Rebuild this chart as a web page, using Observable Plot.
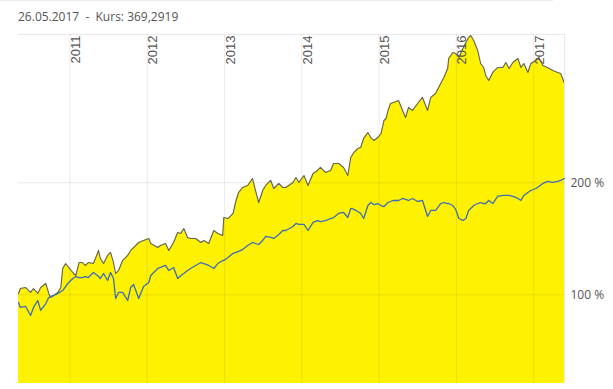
<!DOCTYPE html>
<html><head><meta charset="utf-8">
<script src="https://cdn.jsdelivr.net/npm/d3@7"></script>
<script src="https://cdn.jsdelivr.net/npm/@observablehq/plot@0.6"></script>
<style>
body{margin:0;background:#fff;}
#wrap{position:relative;width:613px;height:389px;overflow:hidden;}
#title{position:absolute;left:18px;top:9px;font:12px/16px "Open Sans";color:#555;white-space:pre;z-index:2;}
#rule{position:absolute;left:0;top:0;width:553px;height:1px;background:#ececec;z-index:2;}
#wrap svg{position:absolute;left:0;top:0;}
</style></head><body>
<div id="wrap"><div id="rule"></div><div id="title">26.05.2017  -  Kurs: 369,2919</div></div>
<script>
const titleText = "26.05.2017  -  Kurs: 369,2919";
const yearLabels = ["2011","2012","2013","2014","2015","2016","2017"];
const yTicks = [100, 200];
const dates = ["2010-05-03","2010-05-12","2010-06-06","2010-06-29","2010-07-13","2010-08-02","2010-08-16","2010-09-09","2010-09-23","2010-10-02","2010-10-16","2010-11-05","2010-11-19","2010-11-28","2010-12-12","2010-12-26",
"2011-01-15","2011-01-29","2011-02-13","2011-03-01","2011-03-15","2011-03-29","2011-04-22","2011-05-11","2011-05-16","2011-05-25","2011-06-09","2011-06-28","2011-07-12","2011-07-26","2011-08-05","2011-08-19","2011-09-07","2011-10-01","2011-10-15","2011-10-29","2011-11-22","2011-12-15",
"2012-01-09","2012-01-18","2012-02-20","2012-03-04","2012-03-28","2012-04-12","2012-05-05","2012-05-24","2012-06-08","2012-06-22","2012-07-10","2012-07-24","2012-08-17","2012-09-11","2012-09-25","2012-10-18","2012-11-11","2012-11-30","2012-12-23","2012-12-28",
"2013-01-17","2013-02-10","2013-02-24","2013-03-08","2013-03-27","2013-04-20","2013-05-13","2013-05-27","2013-06-11","2013-06-30","2013-07-14","2013-08-07","2013-08-21","2013-09-14","2013-10-03","2013-10-17","2013-11-20","2013-12-04","2013-12-18",
"2014-01-11","2014-01-30","2014-02-23","2014-03-16","2014-03-30","2014-04-23","2014-05-17","2014-05-31","2014-06-24","2014-07-17","2014-08-06","2014-08-20","2014-09-04","2014-09-22","2014-10-06","2014-10-20","2014-11-09","2014-11-23","2014-12-07","2014-12-26",
"2015-01-10","2015-01-24","2015-02-03","2015-02-12","2015-02-24","2015-03-10","2015-04-03","2015-04-22","2015-05-06","2015-05-20","2015-06-08","2015-07-02","2015-07-25","2015-08-18","2015-09-02","2015-09-25","2015-10-19","2015-11-03","2015-11-21","2015-11-26","2015-12-15","2015-12-29",
"2016-01-13","2016-02-01","2016-02-15","2016-02-28","2016-03-09","2016-03-23","2016-04-11","2016-04-25","2016-05-09","2016-05-19","2016-06-02","2016-06-21","2016-07-14","2016-08-08","2016-08-22","2016-09-06","2016-09-24","2016-10-18","2016-11-01","2016-11-15","2016-12-04","2016-12-18",
"2017-01-11","2017-01-25","2017-02-13","2017-03-07","2017-04-01","2017-04-24","2017-05-08","2017-05-26"];
const stock = [101.2,105.6,106.5,102.1,105.6,101.2,106.5,110.1,101.2,97.6,99.4,102.1,106.5,123.5,127.9,124.4,
119.9,117.2,128.8,128.8,126.2,128.8,127.9,136.9,139.6,132.4,127.9,135.1,137.8,128.8,119.0,121.7,130.6,135.1,139.6,142.2,146.7,148.5,
150.3,145.8,142.2,144.0,145.8,139.6,146.7,155.6,154.7,159.2,151.2,150.3,150.3,146.7,148.5,145.8,157.4,154.7,152.9,169.0,
168.1,172.6,184.2,191.3,195.8,197.6,203.8,193.1,182.4,193.1,197.6,202.1,194.9,199.4,195.8,195.8,200.3,204.7,200.3,
206.5,197.6,208.3,211.0,213.7,209.2,211.0,217.2,217.2,213.7,206.5,222.6,227.1,230.6,231.5,239.6,244.9,240.4,237.8,240.4,
244.0,255.6,257.4,264.6,270.8,271.7,273.5,264.6,258.3,267.2,264.6,270.8,276.2,264.6,276.2,279.7,288.7,294.0,302.1,311.0,316.3,315.4,
311.9,319.9,325.3,329.7,331.5,327.1,318.1,306.5,302.9,295.8,291.3,298.5,302.9,302.9,307.4,302.1,307.4,311.0,302.9,306.5,298.5,306.5,
309.2,311.9,304.7,302.9,300.3,298.5,297.6,288.7];
const benchmark = [93.1,88.7,89.6,81.5,88.7,94.9,86.0,92.2,97.6,98.5,99.4,101.2,102.9,103.8,107.4,111.0,
114.6,116.3,115.4,115.4,116.3,115.4,119.9,117.2,116.3,114.6,119.0,112.8,119.9,114.6,96.7,102.1,102.1,94.9,106.5,109.2,96.7,107.4,
111.0,117.2,123.5,124.4,126.2,121.7,124.4,114.6,117.2,119.0,121.7,123.5,126.2,128.8,127.9,126.2,123.5,127.9,130.6,130.6,
133.3,137.0,137.8,138.7,140.4,144.0,146.7,145.8,144.9,148.5,152.1,151.2,150.3,153.8,157.4,157.4,161.0,163.7,162.8,
162.8,157.4,164.6,166.3,165.4,166.3,168.1,169.0,172.6,173.5,169.0,177.1,176.2,174.4,172.6,168.1,179.7,182.4,180.6,181.5,
179.7,178.8,180.6,182.4,183.3,184.2,184.2,186.0,185.1,184.2,186.0,183.3,184.2,169.9,175.3,175.3,181.5,182.4,181.5,181.5,179.7,176.2,
168.1,166.3,168.1,175.3,177.1,179.7,181.5,182.4,181.5,181.5,184.2,181.5,187.8,188.7,188.7,188.7,187.8,186.0,184.2,188.7,191.3,193.1,
194.9,196.7,199.4,201.2,200.3,201.2,202.1,203.8];

const parse = d3.utcParse("%Y-%m-%d");
const data = dates.map((d, i) => ({date: parse(d), stock: stock[i], index: benchmark[i]}));
const yearDates = yearLabels.map(y => parse(y + "-01-01"));
const yMin = 20.8, yMax = 332.4;
const x0 = data[0].date, x1 = data[data.length - 1].date;

const chart = Plot.plot({
  width: 613, height: 389,
  marginTop: 34, marginBottom: 6, marginLeft: 18, marginRight: 49,
  style: {fontFamily: "Open Sans", fontSize: "12px", color: "#555", background: "transparent", overflow: "visible"},
  x: {type: "utc", domain: [x0, x1], axis: null},
  y: {domain: [yMin, yMax], axis: null},
  marks: [
    Plot.areaY(data, {x: "date", y1: yMin, y2: "stock", fill: "#fff200", clip: true}),
    Plot.ruleY(yTicks, {stroke: "#000", strokeOpacity: 0.085}),
    Plot.ruleX(yearDates, {stroke: "#000", strokeOpacity: 0.085}),
    Plot.ruleY([yMax], {stroke: "#000", strokeOpacity: 0.085}),
    Plot.ruleX([x1], {y1: yMax, y2: yMin, stroke: "#000", strokeOpacity: 0.085}),
    Plot.lineY(data, {x: "date", y: "stock", stroke: "#606060", strokeWidth: 1.1, clip: true}),
    Plot.lineY(data, {x: "date", y: "index", stroke: "#3d6cb8", strokeWidth: 1.3}),
    Plot.axisY(yTicks, {anchor: "right", tickSize: 0, tickPadding: 6, tickFormat: d => d + " %", fontSize: 12, fill: "#555", label: null}),
    Plot.text(yearDates, {x: d => d, frameAnchor: "top", text: (d, i) => yearLabels[i], rotate: -90, textAnchor: "end", lineAnchor: "bottom", dx: 10, dy: 1, fontFamily: "Liberation Sans", fontSize: 13, fill: "#555"})
  ]
});
document.getElementById("wrap").appendChild(chart);
</script>
</body></html>
